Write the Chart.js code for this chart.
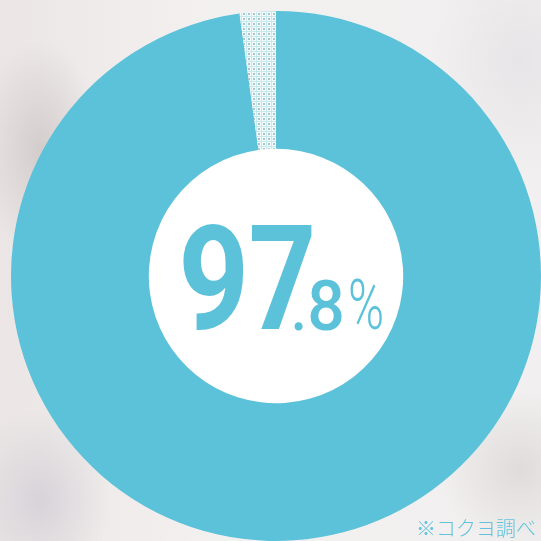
<!DOCTYPE html>
<html>
<head>
<meta charset="utf-8">
<script src="https://cdn.jsdelivr.net/npm/chart.js@4.4.1/dist/chart.umd.min.js"></script>
<style>
  html, body { margin: 0; padding: 0; width: 541px; height: 541px; overflow: hidden; }
  body {
    position: relative;
    background:
      radial-gradient(ellipse 60px 110px at 40px 150px, rgba(190,182,182,0.55), rgba(190,182,182,0) 100%),
      radial-gradient(ellipse 70px 90px at 40px 500px, rgba(200,198,208,0.6), rgba(200,198,208,0) 100%),
      radial-gradient(ellipse 80px 80px at 520px 470px, rgba(205,200,198,0.5), rgba(205,200,198,0) 100%),
      radial-gradient(ellipse 90px 120px at 520px 60px, rgba(225,222,226,0.6), rgba(225,222,226,0) 100%),
      linear-gradient(90deg, #ebe6e5 0%, #f3f1f0 40%, #f1efef 100%);
  }
  #wrap { position: absolute; left: 11px; top: 11px; width: 530px; height: 530px; }
  #note {
    position: absolute; left: 416px; top: 518px;
    font-family: "Noto Sans CJK JP", sans-serif; font-weight: 300;
    font-size: 20px; line-height: 20px; color: #62c4dc; white-space: nowrap;
  }
</style>
</head>
<body>
<div id="wrap"><canvas id="c"></canvas></div>
<div id="note">※コクヨ調べ</div>
<script>
// ---- data ----
const categories = ['はい', 'いいえ'];
const shareValues = [97.8, 2.2];
const centerMajor = ['9', '7'];
const centerMinor = ['.', '8', '%'];
const noteText = '※コクヨ調べ';

// ---- styles ----
const ringBlue = '#5bc2da';

function makePattern() {
  const t = document.createElement('canvas');
  t.width = 5; t.height = 5;
  const g = t.getContext('2d');
  g.fillStyle = '#f3fbfc'; g.fillRect(0, 0, 5, 5);
  g.fillStyle = '#c6e9f0'; g.fillRect(0, 0, 5, 1); g.fillRect(0, 0, 1, 5);
  g.fillStyle = '#aac6cb'; g.fillRect(2, 2, 2, 2);
  return g.createPattern(t, 'repeat');
}

// fit a glyph's ink box to [left,right] x [top,baseline], relative to chart centre
function fitGlyph(ctx, text, weight, left, right, top, base) {
  ctx.font = weight + ' 100px Roboto';
  const m = ctx.measureText(text);
  const inkW = m.actualBoundingBoxLeft + m.actualBoundingBoxRight;
  const inkH = m.actualBoundingBoxAscent;
  const size = 100 * (base - top) / inkH;
  ctx.font = weight + ' ' + size + 'px Roboto';
  const m2 = ctx.measureText(text);
  const w2 = m2.actualBoundingBoxLeft + m2.actualBoundingBoxRight;
  const sx = (right - left) / w2;
  ctx.save();
  ctx.translate(left + m2.actualBoundingBoxLeft * sx, base);
  ctx.scale(sx, 1);
  ctx.textBaseline = 'alphabetic';
  ctx.textAlign = 'left';
  ctx.fillText(text, 0, 0);
  ctx.restore();
}

const centerText = {
  id: 'centerText',
  afterDraw(chart) {
    const arc = chart.getDatasetMeta(0).data[0];
    const cx = arc.x, cy = arc.y;
    const ctx = chart.ctx;
    ctx.save();
    ctx.fillStyle = ringBlue;
    // offsets measured relative to ring centre
    const ox = cx - 276, oy = cy - 276;
    fitGlyph(ctx, centerMajor[0], 700, 183.3 + ox, 243.3 + ox, 223.5 + oy, 329 + oy);
    fitGlyph(ctx, centerMajor[1], 700, 251.7 + ox, 311.7 + ox, 224 + oy, 329 + oy);
    fitGlyph(ctx, centerMinor[0], 700, 294.3 + ox, 303.3 + ox, 321.7 + oy, 329.5 + oy);
    fitGlyph(ctx, centerMinor[1], 500, 310 + ox, 341.7 + ox, 277.7 + oy, 329.5 + oy);
    fitGlyph(ctx, centerMinor[2], 300, 350 + ox, 381.7 + ox, 276.7 + oy, 328.5 + oy);
    ctx.restore();
  }
};

const innerWhite = {
  id: 'innerWhite',
  beforeDatasetsDraw(chart) {
    const arc = chart.getDatasetMeta(0).data[0];
    const ctx = chart.ctx;
    ctx.save();
    ctx.fillStyle = '#ffffff';
    ctx.beginPath();
    ctx.arc(arc.x, arc.y, arc.innerRadius + 0.5, 0, Math.PI * 2);
    ctx.fill();
    ctx.restore();
  }
};

document.fonts && document.fonts.load('700 100px Roboto');

new Chart(document.getElementById('c'), {
  type: 'doughnut',
  data: {
    labels: categories,
    datasets: [{
      data: shareValues,
      backgroundColor: [ringBlue, makePattern()],
      borderWidth: 0
    }]
  },
  options: {
    responsive: true,
    maintainAspectRatio: false,
    animation: false,
    cutout: '48%',
    rotation: 0,
    layout: { padding: 0 },
    plugins: { legend: { display: false }, tooltip: { enabled: false } }
  },
  plugins: [innerWhite, centerText]
});
</script>
</body>
</html>
